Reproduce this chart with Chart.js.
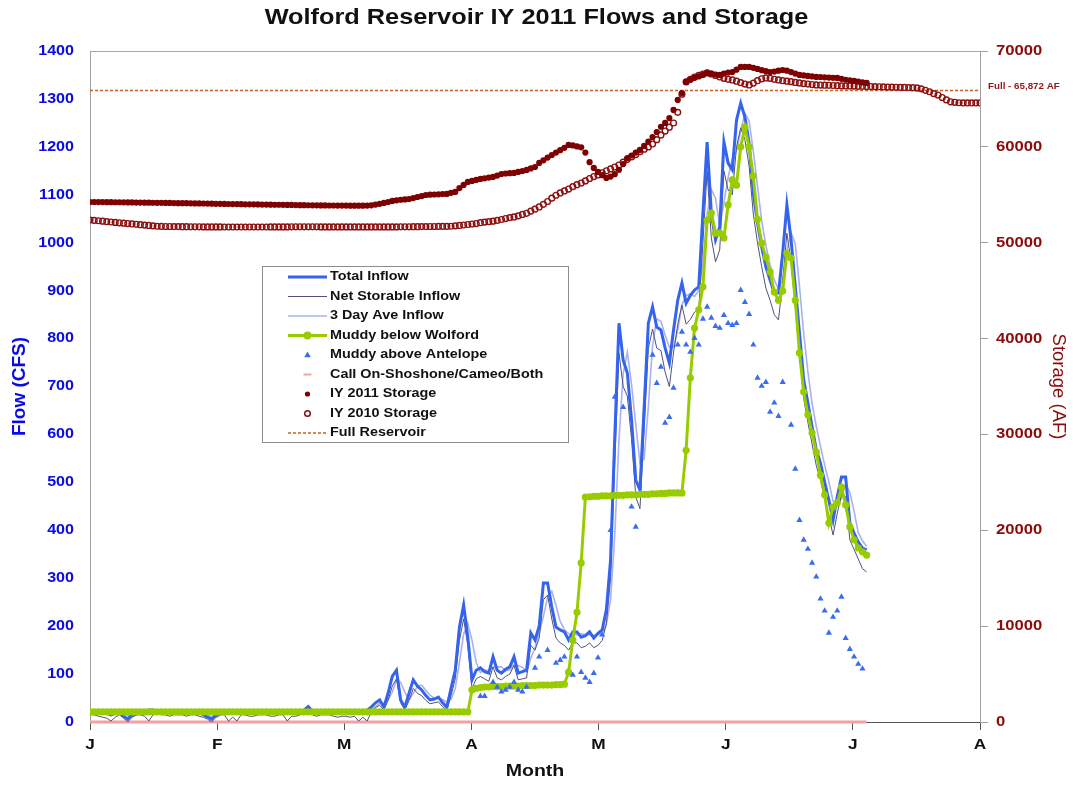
<!DOCTYPE html>
<html>
<head>
<meta charset="utf-8">
<script src="https://cdn.jsdelivr.net/npm/chart.js@4.4.1/dist/chart.umd.min.js"></script>
<style>
  html, body { margin: 0; padding: 0; background: #fff; }
  #wrap { width: 1073px; height: 785px; }
</style>
</head>
<body>
<div id="wrap"><canvas id="c" width="1073" height="785"></canvas></div>
<script>
// ---------- DATA (day index 0 = Jan 1) ----------
const monthLabels = ['J','F','M','A','M','J','J','A'];
const monthTickDays = [0, 30.29, 60.57, 90.86, 121.14, 151.43, 181.71, 212];

const totalInflow = [
  18,20,22,20,18,15,18,20,12,6,
  15,20,22,22,25,25,22,20,20,18,
  20,22,20,18,20,22,20,15,10,6,
  15,20,22,20,18,20,20,22,20,18,
  20,22,20,18,18,20,22,20,20,18,
  20,25,32,22,18,20,20,22,20,18,
  20,20,18,20,22,20,25,31,40,46,
  31,60,95,108,46,31,60,88,75,67,
  55,46,48,52,40,31,70,108,198,244,
  177,88,108,113,105,102,136,108,102,110,
  115,136,102,105,108,186,171,200,290,290,
  240,198,192,188,171,188,188,177,180,188,
  175,185,192,234,338,594,832,755,728,630,
  505,484,657,832,866,824,818,780,749,818,
  880,916,874,890,901,908,1062,1210,1062,1006,
  1033,1210,1166,1152,1256,1291,1262,1208,1104,1041,
  991,949,922,895,895,978,1079,1006,908,812,
  714,666,616,568,540,500,463,421,470,511,
  511,415,394,376,363,359
];
const netStorable = [
  15,15,12,10,8,2,10,15,8,0,
  10,15,15,12,2,15,18,15,15,12,
  15,15,15,12,15,15,12,10,6,0,
  10,15,15,2,10,2,15,15,12,12,
  15,15,15,12,12,15,15,2,12,12,
  15,18,30,15,12,15,15,15,12,10,
  12,12,10,12,2,10,2,20,30,35,
  25,45,75,90,40,25,45,70,60,55,
  45,38,40,42,32,25,55,90,170,215,
  160,70,90,95,90,85,115,92,88,95,
  100,118,88,90,92,160,150,175,255,265,
  215,175,165,160,150,165,165,155,158,165,
  155,160,170,205,300,540,770,700,680,590,
  470,445,610,780,820,780,775,730,700,770,
  830,870,830,840,855,860,1000,1150,1010,960,
  985,1150,1110,1100,1200,1240,1215,1160,1060,1000,
  950,905,880,850,839,920,1020,960,865,770,
  675,625,580,535,505,465,430,390,435,475,
  470,380,360,340,320,313
];
const threeDayAve = [
  20,19,20,21,20,18,17,18,17,13,
  11,14,19,21,23,24,24,22,21,19,
  19,20,21,20,19,20,21,19,15,10,
  10,14,19,21,20,19,19,21,21,20,
  19,20,21,20,19,19,20,21,21,19,
  19,21,26,26,24,20,19,21,21,20,
  19,19,19,19,20,21,22,25,32,39,
  39,46,62,88,83,62,46,60,74,77,
  66,56,50,49,47,41,47,70,125,183,
  206,170,124,103,109,107,114,115,115,107,
  109,120,118,114,105,133,155,186,220,260,
  273,243,210,193,184,182,182,184,182,182,
  181,183,184,204,255,389,588,727,772,704,
  621,540,549,658,785,841,836,807,782,782,
  816,871,890,893,888,900,957,1060,1111,1093,
  1034,1083,1136,1176,1191,1233,1270,1254,1191,1118,
  1045,994,954,922,904,923,984,1021,998,909,
  811,731,665,617,575,536,501,461,451,467,
  497,479,440,395,378,366
];
const muddyBelowWolford = [
  21,21,21,21,21,21,21,21,21,21,
  21,21,21,21,21,21,21,21,21,21,
  21,21,21,21,21,21,21,21,21,21,
  21,21,21,21,21,21,21,21,21,21,
  21,21,21,21,21,21,21,21,21,21,
  21,21,21,21,21,21,21,21,21,21,
  21,21,21,21,21,21,21,21,21,21,
  21,21,21,21,21,21,21,21,21,21,
  21,21,21,21,21,21,21,21,21,21,
  21,67,70,72,73,73,74,74,74,75,
  75,75,75,76,76,76,76,77,77,77,
  77,78,78,79,104,171,229,332,469,470,
  471,471,472,472,472,473,473,473,474,474,
  474,475,475,475,476,476,477,477,478,478,
  478,478,567,718,822,860,908,1047,1062,1020,
  1020,1010,1079,1131,1120,1200,1241,1200,1139,1049,
  999,970,939,897,880,899,978,968,880,770,
  689,641,603,563,515,474,415,449,457,490,
  453,407,380,363,355,348
];
const antelopeDays = [
  93,94,96,97,98,99,100,101,102,103,104,106,107,109,111,112,113,115,116,117,
  118,119,120,121,122,124,125,127,129,130,134,135,136,137,138,139,140,141,142,143,
  144,145,146,147,148,149,150,151,152,153,154,155,156,157,158,159,160,161,162,163,
  164,165,167,168,169,170,171,172,173,174,175,176,177,178,179,180,181,182,183,184
];
const antelopeFlows = [
  54,54,83,73,63,67,73,83,67,63,73,113,136,150,123,129,136,98,136,104,
  92,83,102,134,182,400,678,657,449,407,766,707,741,624,636,697,787,814,787,772,
  801,787,841,866,843,826,822,849,832,828,832,901,876,851,787,718,701,709,647,666,
  638,709,620,528,421,380,361,332,303,257,232,186,219,232,261,175,152,136,121,111
];
const callDays = [0, 185];
const callFlows = [0, 0];

const storage2011 = [
  54250,54250,54240,54240,54230,54230,54220,54220,54210,54200,
  54200,54190,54190,54180,54180,54170,54160,54160,54150,54150,
  54140,54130,54130,54120,54110,54100,54100,54090,54080,54070,
  54060,54060,54050,54040,54030,54030,54020,54010,54000,54000,
  53990,53980,53980,53970,53960,53960,53950,53940,53940,53930,
  53920,53920,53910,53900,53900,53890,53890,53880,53880,53870,
  53870,53870,53860,53860,53860,53860,53870,53900,53980,54060,
  54150,54250,54360,54420,54480,54520,54560,54660,54770,54870,
  54980,55010,55030,55050,55080,55090,55200,55300,55700,56030,
  56340,56450,56550,56650,56720,56800,56860,57000,57170,57220,
  57250,57280,57380,57480,57590,57750,57900,58320,58600,58880,
  59150,59400,59650,59900,60200,60150,60050,59950,59400,58400,
  57800,57380,57050,56760,56900,57150,57600,58200,58840,59100,
  59400,59680,60100,60550,61030,61550,62100,62500,63000,63850,
  64900,65620,66770,67000,67200,67350,67500,67710,67650,67550,
  67500,67650,67750,67810,68050,68340,68340,68340,68250,68130,
  68000,67900,67810,67850,67950,68020,67950,67800,67650,67500,
  67450,67400,67350,67300,67290,67250,67230,67200,67190,67100,
  67000,66950,66880,66800,66720,66670
];
const storage2010 = [
  52370,52330,52290,52250,52200,52160,52120,52080,52040,52000,
  51960,51920,51880,51840,51800,51760,51720,51700,51690,51690,
  51680,51680,51670,51670,51660,51660,51660,51650,51650,51650,
  51650,51650,51640,51640,51640,51640,51640,51640,51640,51640,
  51640,51640,51640,51650,51650,51650,51650,51650,51660,51660,
  51660,51660,51660,51660,51660,51650,51650,51650,51650,51650,
  51650,51650,51650,51650,51650,51650,51650,51650,51650,51650,
  51650,51650,51650,51650,51660,51660,51660,51670,51670,51680,
  51680,51690,51690,51700,51700,51700,51720,51760,51800,51850,
  51900,51950,52000,52090,52150,52200,52250,52330,52420,52520,
  52620,52690,52800,52950,53070,53300,53500,53730,54000,54300,
  54650,54950,55190,55400,55600,55850,56050,56230,56450,56700,
  56900,57070,57300,57500,57700,57900,58100,58400,58700,58950,
  59200,59500,59750,59990,60300,60750,61240,61650,62050,62490,
  63600,65500,66770,67050,67290,67450,67600,67710,67600,67450,
  67290,67150,67050,66980,66850,66700,66550,66460,66650,66900,
  67100,67190,67150,67050,66980,66900,66850,66800,66720,66670,
  66600,66550,66500,66460,66450,66430,66420,66400,66380,66360,
  66350,66350,66340,66320,66310,66300,66290,66280,66270,66250,
  66240,66230,66220,66210,66200,66180,66170,66150,66050,65900,
  65750,65550,65410,65150,64900,64700,64650,64600,64580,64580,
  64580,64580,64580
];
const fullDays = [0, 212];
const fullStorage = [65872, 65872];
const fullLabel = 'Full - 65,872 AF';

// ---------- rendering ----------
// the reference's horizontal text is slightly wide: stretch upright text around its anchor
const TEXT_SX = 1.15;
const _fillText = CanvasRenderingContext2D.prototype.fillText;
CanvasRenderingContext2D.prototype.fillText = function (t, x, y, mw) {
  const m = this.getTransform();
  if (Math.abs(m.b) > 1e-6 || Math.abs(m.c) > 1e-6) return _fillText.call(this, t, x, y, mw);
  this.save();
  this.translate(x, y);
  this.scale(TEXT_SX, 1);
  _fillText.call(this, t, 0, 0, mw);
  this.restore();
};

const byDay = arr => arr.map((v, i) => ({ x: i, y: v }));
const pairs = (xs, ys) => xs.map((x, i) => ({ x: x, y: ys[i] }));
const F = '"Liberation Sans", Arial, sans-serif';

const C = {
  total: '#3463ee', net: '#50507e', ave: '#aab0f2', green: '#99cc00',
  ante: '#3a6cf0', call: '#f4a0a0', s11: '#7e0000', s10: '#8b1010', full: '#d0601a'
};

const datasets = [
  { label: 'Total Inflow', data: byDay(totalInflow), yAxisID: 'y', borderColor: C.total, borderWidth: 3, pointRadius: 0, order: 2, kind: 'line' },
  { label: 'Net Storable Inflow', data: byDay(netStorable), yAxisID: 'y', borderColor: C.net, borderWidth: 1, pointRadius: 0, order: 3, kind: 'thin' },
  { label: '3 Day Ave Inflow', data: byDay(threeDayAve), yAxisID: 'y', borderColor: C.ave, borderWidth: 1.6, pointRadius: 0, order: 4, kind: 'ave' },
  { label: 'Muddy below Wolford', data: byDay(muddyBelowWolford), yAxisID: 'y', borderColor: C.green, backgroundColor: C.green, borderWidth: 3, pointRadius: 3.6, pointBorderWidth: 0, pointBackgroundColor: C.green, order: 1, kind: 'lineDot' },
  { label: 'Muddy above Antelope', data: pairs(antelopeDays, antelopeFlows), yAxisID: 'y', showLine: false, pointStyle: 'triangle', pointRadius: 3.6, pointBorderWidth: 0, pointBackgroundColor: C.ante, borderColor: C.ante, order: 0, kind: 'tri' },
  { label: 'Call On-Shoshone/Cameo/Both', data: pairs(callDays, callFlows), yAxisID: 'y', borderColor: C.call, borderWidth: 3, pointRadius: 0, order: 8, clip: 4, kind: 'dash' },
  { label: 'IY 2011 Storage', data: byDay(storage2011), yAxisID: 'y2', showLine: false, pointRadius: 3.1, pointBorderWidth: 0, pointBackgroundColor: C.s11, borderColor: C.s11, order: 5, kind: 'dot' },
  { label: 'IY 2010 Storage', data: byDay(storage2010), yAxisID: 'y2', showLine: false, pointRadius: 2.9, pointBorderWidth: 1.4, pointBackgroundColor: 'rgba(0,0,0,0)', pointBorderColor: C.s10, borderColor: C.s10, order: 6, kind: 'ring' },
  { label: 'Full Reservoir', data: pairs(fullDays, fullStorage), yAxisID: 'y2', borderColor: C.full, borderWidth: 1.5, borderDash: [3, 2], pointRadius: 0, order: 7, kind: 'dotted' }
];

const overlay = {
  id: 'overlay',
  afterDraw(chart) {
    const ctx = chart.ctx, a = chart.chartArea;
    ctx.save();
    ctx.strokeStyle = '#a8a8a8'; ctx.lineWidth = 1;
    ctx.beginPath(); ctx.moveTo(a.left, Math.round(a.top) + 0.5); ctx.lineTo(a.right, Math.round(a.top) + 0.5); ctx.stroke();
    const yF = chart.scales.y2.getPixelForValue(fullStorage[0]);
    ctx.fillStyle = '#8b1a1a'; ctx.font = 'bold 8.5px ' + F;
    ctx.textAlign = 'left'; ctx.textBaseline = 'middle';
    ctx.fillText(fullLabel, a.right + 8, yF - 4);
    // legend
    const bx = 262.5, by = 266.5, bw = 306, bh = 176;
    ctx.fillStyle = '#fff'; ctx.fillRect(bx, by, bw, bh);
    ctx.strokeStyle = '#8c8c8c'; ctx.lineWidth = 1; ctx.strokeRect(bx, by, bw, bh);
    const x0 = 288, x1 = 327, xm = 307.5;
    ctx.font = 'bold 12.5px ' + F; ctx.textBaseline = 'middle'; ctx.textAlign = 'left';
    chart.data.datasets.forEach((ds, i) => {
      const y = 277 + i * 19.5;
      ctx.save();
      if (['line', 'thin', 'ave', 'lineDot', 'dotted'].includes(ds.kind)) {
        ctx.strokeStyle = ds.borderColor; ctx.lineWidth = ds.borderWidth;
        if (ds.borderDash) ctx.setLineDash(ds.borderDash);
        ctx.beginPath(); ctx.moveTo(x0, y); ctx.lineTo(x1, y); ctx.stroke();
      }
      if (ds.kind === 'lineDot') {
        ctx.fillStyle = C.green; ctx.beginPath(); ctx.arc(xm, y, 4, 0, Math.PI * 2); ctx.fill();
      }
      if (ds.kind === 'tri') {
        ctx.fillStyle = C.ante; ctx.beginPath();
        ctx.moveTo(xm, y - 3.5); ctx.lineTo(xm + 3.3, y + 2.3); ctx.lineTo(xm - 3.3, y + 2.3); ctx.closePath(); ctx.fill();
      }
      if (ds.kind === 'dash') {
        ctx.strokeStyle = C.call; ctx.lineWidth = 2;
        ctx.beginPath(); ctx.moveTo(xm - 4, y); ctx.lineTo(xm + 4, y); ctx.stroke();
      }
      if (ds.kind === 'dot') {
        ctx.fillStyle = C.s11; ctx.beginPath(); ctx.arc(xm, y, 2.6, 0, Math.PI * 2); ctx.fill();
      }
      if (ds.kind === 'ring') {
        ctx.strokeStyle = C.s10; ctx.lineWidth = 1.5; ctx.beginPath(); ctx.arc(xm, y, 2.8, 0, Math.PI * 2); ctx.stroke();
      }
      ctx.restore();
      ctx.fillStyle = '#111';
      ctx.fillText(ds.label, 330, y);
    });
    ctx.restore();
  }
};

new Chart(document.getElementById('c'), {
  type: 'line',
  data: { datasets: datasets },
  options: {
    responsive: false,
    animation: false,
    devicePixelRatio: 1,
    layout: { padding: 0 },
    elements: { line: { tension: 0 } },
    plugins: {
      legend: { display: false },
      tooltip: { enabled: false },
      title: {
        display: true, text: 'Wolford Reservoir IY 2011 Flows and Storage', color: '#111',
        font: { family: F, size: 22, weight: 'bold' }, padding: { top: 5, bottom: 19.6 }
      }
    },
    scales: {
      x: {
        type: 'linear', min: 0, max: 212,
        afterBuildTicks: s => { s.ticks = monthTickDays.map(v => ({ value: v })); },
        ticks: { autoSkip: false, maxRotation: 0, padding: 6, color: '#111',
          font: { family: F, size: 15, weight: 'bold' }, callback: (v, i) => monthLabels[i] },
        grid: { drawOnChartArea: false, drawTicks: true, tickLength: 8, color: '#555' },
        border: { color: '#555', width: 1 },
        title: { display: true, text: 'Month', color: '#111', font: { family: F, size: 17, weight: 'bold' }, padding: { top: 0, bottom: 3 } },
        afterFit: s => { s.height = 63; }
      },
      y: {
        position: 'left', min: 0, max: 1400,
        ticks: { stepSize: 100, padding: 16, color: '#0a0ae6', font: { family: F, size: 14, weight: 'bold' }, callback: v => String(v) },
        grid: { drawOnChartArea: false, drawTicks: false },
        border: { color: '#a0a0a0' },
        title: { display: true, text: 'Flow (CFS)', color: '#0a0ae6', font: { family: F, size: 19, weight: 'bold' }, padding: { top: 8, bottom: 0 } },
        afterFit: s => { s.width = 90; }
      },
      y2: {
        position: 'right', min: 0, max: 70000,
        ticks: { stepSize: 10000, padding: 8, color: '#8b0a0a', font: { family: F, size: 14.5, weight: 'bold' }, callback: v => String(v) },
        grid: { drawOnChartArea: false, drawTicks: true, tickLength: 8, color: '#a0a0a0' },
        border: { color: '#a0a0a0' },
        title: { display: true, text: 'Storage (AF)', color: '#8b0a0a', font: { family: F, size: 18.5 }, padding: { top: 4, bottom: 0 } },
        afterFit: s => { s.width = 93; }
      }
    }
  },
  plugins: [overlay]
});
</script>
</body>
</html>
